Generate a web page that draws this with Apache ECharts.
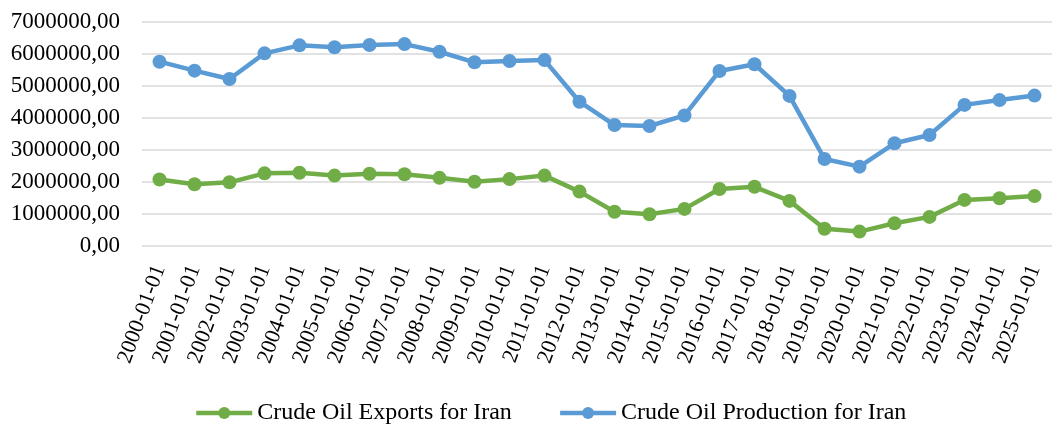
<!DOCTYPE html>
<html>
<head>
<meta charset="utf-8">
<script src="https://cdn.jsdelivr.net/npm/echarts@6/dist/echarts.min.js"></script>
<style>
  html, body { margin: 0; padding: 0; background: #fff; }
  #chart { width: 1064px; height: 426px; }
</style>
</head>
<body>
<div id="chart"></div>
<script>
// Annual dates (first of January each year)
const dates = [
  '2000-01-01','2001-01-01','2002-01-01','2003-01-01','2004-01-01','2005-01-01',
  '2006-01-01','2007-01-01','2008-01-01','2009-01-01','2010-01-01','2011-01-01',
  '2012-01-01','2013-01-01','2014-01-01','2015-01-01','2016-01-01','2017-01-01',
  '2018-01-01','2019-01-01','2020-01-01','2021-01-01','2022-01-01','2023-01-01',
  '2024-01-01','2025-01-01'
];

// Crude oil exports for Iran
const exportsIran = [
  2080000, 1930000, 1990000, 2270000, 2290000, 2200000,
  2260000, 2240000, 2130000, 2010000, 2090000, 2200000,
  1700000, 1070000, 990000, 1160000, 1780000, 1850000,
  1410000, 540000, 450000, 710000, 910000, 1440000,
  1490000, 1560000
];

// Crude oil production for Iran
const productionIran = [
  5760000, 5480000, 5220000, 6020000, 6270000, 6210000,
  6280000, 6310000, 6070000, 5740000, 5780000, 5810000,
  4510000, 3780000, 3750000, 4080000, 5470000, 5680000,
  4690000, 2720000, 2480000, 3210000, 3470000, 4410000,
  4560000, 4700000
];

// Value axis ticks
const yTicks = [0, 1000000, 2000000, 3000000, 4000000, 5000000, 6000000, 7000000];

const FONT = '"Liberation Serif", "Times New Roman", serif';
const chart = echarts.init(document.getElementById('chart'), null, { renderer: 'canvas' });

chart.setOption({
  animation: false,
  backgroundColor: '#ffffff',
  textStyle: { fontFamily: FONT, color: '#000' },
  grid: { left: 142, right: 12, top: 22, bottom: 180, containLabel: false },
  legend: {
    bottom: -4,
    left: 189,
    itemWidth: 56,
    itemHeight: 15,
    itemGap: 46,
    lineStyle: { width: 4.5 },
    textStyle: { fontFamily: FONT, fontSize: 24, color: '#000' },
    data: ['Crude Oil Exports for Iran', 'Crude Oil Production for Iran']
  },
  xAxis: {
    type: 'category',
    data: dates,
    boundaryGap: true,
    axisLine: { show: false },
    axisTick: { show: false },
    axisLabel: {
      interval: 0,
      rotate: 70,
      margin: 20,
      padding: [10, 0, 0, 0],
      fontFamily: FONT,
      fontSize: 22,
      color: '#000'
    }
  },
  yAxis: {
    type: 'value',
    min: yTicks[0],
    max: yTicks[yTicks.length - 1],
    interval: 1000000,
    axisLine: { show: false },
    axisTick: { show: false },
    splitLine: { lineStyle: { color: '#d9d9d9', width: 1.5 } },
    axisLabel: {
      margin: 22,
      fontFamily: FONT,
      fontSize: 23,
      color: '#000',
      formatter: v => v.toFixed(2).replace('.', ',')
    }
  },
  series: [
    {
      name: 'Crude Oil Exports for Iran',
      type: 'line',
      data: exportsIran,
      symbol: 'circle',
      symbolSize: 14,
      lineStyle: { width: 4.5, color: '#70AD47' },
      itemStyle: { color: '#70AD47' }
    },
    {
      name: 'Crude Oil Production for Iran',
      type: 'line',
      data: productionIran,
      symbol: 'circle',
      symbolSize: 14,
      lineStyle: { width: 4.5, color: '#5B9BD5' },
      itemStyle: { color: '#5B9BD5' }
    }
  ]
});
</script>
</body>
</html>
